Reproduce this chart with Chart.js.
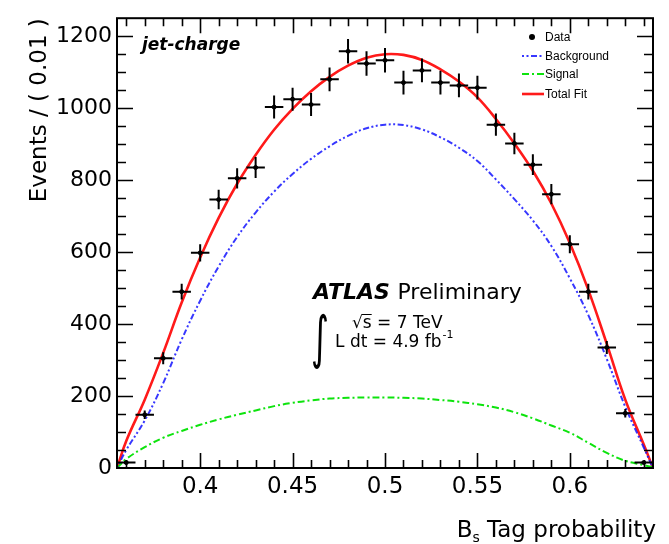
<!DOCTYPE html>
<html>
<head>
<meta charset="utf-8">
<script src="https://cdn.jsdelivr.net/npm/chart.js@4.4.0/dist/chart.umd.min.js"></script>
<style>
  html, body { margin: 0; padding: 0; background: #fff; }
  #tagChart { display: block; }
</style>
</head>
<body>
<canvas id="tagChart" width="669" height="544"></canvas>
<script>
// bin centres (width 0.01) and events per bin
const binCenters = [0.36, 0.37, 0.38, 0.39, 0.40, 0.41, 0.42, 0.43, 0.44, 0.45,
  0.46, 0.47, 0.48, 0.49, 0.50, 0.51, 0.52, 0.53, 0.54, 0.55,
  0.56, 0.57, 0.58, 0.59, 0.60, 0.61, 0.62, 0.63, 0.64];
const dataEvents = [15, 148, 305, 490, 598, 746, 805, 835, 1003, 1025,
  1010, 1080, 1158, 1124, 1133, 1071, 1105, 1071, 1063, 1057,
  954, 902, 843, 761, 622, 490, 335, 152, 15];
const dataErr = [4, 12, 17, 22, 24, 27, 28, 29, 32, 32,
  32, 33, 34, 34, 34, 33, 33, 33, 33, 33,
  31, 30, 29, 28, 25, 22, 18, 12, 4];
const binHalfWidth = 0.005;

// fit curves sampled along the tag probability
const fitX = [0.355, 0.36, 0.37, 0.38, 0.39, 0.40, 0.41, 0.42, 0.43, 0.44,
  0.45, 0.46, 0.47, 0.48, 0.49, 0.50, 0.51, 0.52, 0.53, 0.54,
  0.55, 0.56, 0.57, 0.58, 0.59, 0.60, 0.61, 0.62, 0.63, 0.64, 0.645];
const totalFit = [0, 75, 190, 320, 460, 585, 695, 790, 870, 940,
  998, 1047, 1087, 1118, 1140, 1150, 1148, 1134, 1108, 1074,
  1030, 970, 902, 826, 735, 625, 495, 345, 190, 65, 0];
const background = [0, 50, 132, 236, 357, 465, 560, 642, 710, 768,
  817, 859, 894, 923, 944, 954, 953, 941, 919, 890,
  853, 802, 747, 688, 617, 527, 425, 303, 170, 57, 0];
const signal = [0, 25, 58, 84, 103, 120, 135, 148, 160, 172,
  181, 188, 193, 195, 196, 196, 195, 193, 189, 184,
  177, 168, 155, 138, 118, 98, 70, 42, 20, 8, 2];

const xTickLabels = [0.4, 0.45, 0.5, 0.55, 0.6];
const yTickLabels = [0, 200, 400, 600, 800, 1000, 1200];

const FONT = 'DejaVu Sans';

function pairs(xs, ys) {
  return xs.map((x, i) => ({ x: x, y: ys[i] }));
}

// box, inward ticks on all four sides, error bars
const frameAndBars = {
  id: 'frameAndBars',
  afterDatasetsDraw(chart) {
    const { ctx, chartArea: a, scales: { x, y } } = chart;
    ctx.save();

    // error bars for the data points
    ctx.strokeStyle = '#000';
    ctx.lineWidth = 2;
    ctx.beginPath();
    binCenters.forEach((c, i) => {
      const px = x.getPixelForValue(c);
      const py = y.getPixelForValue(dataEvents[i]);
      ctx.moveTo(x.getPixelForValue(c - binHalfWidth), py);
      ctx.lineTo(x.getPixelForValue(c + binHalfWidth), py);
      ctx.moveTo(px, y.getPixelForValue(Math.max(0, dataEvents[i] - dataErr[i])));
      ctx.lineTo(px, y.getPixelForValue(dataEvents[i] + dataErr[i]));
    });
    ctx.stroke();

    // ticks
    ctx.lineWidth = 1.6;
    ctx.beginPath();
    for (let k = 36; k <= 64; k++) {
      const px = Math.round(x.getPixelForValue(k / 100)) + 0.5;
      const len = k % 5 === 0 ? 15 : 8;
      ctx.moveTo(px, a.bottom); ctx.lineTo(px, a.bottom - len);
      ctx.moveTo(px, a.top); ctx.lineTo(px, a.top + len);
    }
    for (let k = 1; k < 25; k++) {
      const py = Math.round(y.getPixelForValue(k * 50)) + 0.5;
      const len = k % 4 === 0 ? 16 : 9;
      ctx.moveTo(a.left, py); ctx.lineTo(a.left + len, py);
      ctx.moveTo(a.right, py); ctx.lineTo(a.right - len, py);
    }
    ctx.stroke();

    ctx.lineWidth = 2;
    ctx.strokeRect(a.left, a.top, a.right - a.left, a.bottom - a.top);
    ctx.restore();
  }
};

// legend, labels and x-axis title
const annotations = {
  id: 'annotations',
  afterDraw(chart) {
    const { ctx } = chart;
    ctx.save();
    ctx.fillStyle = '#000';
    ctx.textBaseline = 'alphabetic';

    ctx.font = 'italic bold 17px ' + FONT;
    ctx.fillText('jet-charge', 142, 50);

    // legend
    const ds = chart.data.datasets;
    const rows = [37, 56, 74, 94];
    ctx.font = '12px "Liberation Sans"';
    ds.forEach((d, i) => {
      const ry = rows[i];
      if (i === 0) {
        ctx.beginPath();
        ctx.arc(532, ry, 3, 0, Math.PI * 2);
        ctx.fill();
      } else {
        ctx.save();
        ctx.strokeStyle = d.borderColor;
        ctx.lineWidth = d.borderWidth;
        ctx.setLineDash(d.borderDash || []);
        ctx.beginPath();
        ctx.moveTo(522, ry); ctx.lineTo(544, ry);
        ctx.stroke();
        ctx.restore();
      }
      ctx.fillStyle = '#000';
      ctx.fillText(d.label, 545, ry + 4);
    });

    // experiment label
    ctx.font = 'italic bold 22px ' + FONT;
    ctx.fillText('ATLAS', 313, 299);
    const w = ctx.measureText('ATLAS ').width;
    ctx.font = '22px ' + FONT;
    ctx.fillText('Preliminary', 313 + w, 299);

    ctx.font = '17px ' + FONT;
    ctx.fillText('\u221As = 7 TeV', 352, 328);
    const rootW = ctx.measureText('\u221A').width;
    const sW = ctx.measureText('s').width;
    ctx.lineWidth = 1;
    ctx.beginPath();
    ctx.moveTo(352 + rootW - 1, 314.5);
    ctx.lineTo(352 + rootW + sW, 314.5);
    ctx.stroke();

    ctx.fillText('L dt = 4.9 fb', 335, 347);
    const lw = ctx.measureText('L dt = 4.9 fb').width;
    ctx.font = '11px ' + FONT;
    ctx.fillText('-1', 335 + lw + 1, 338);

    // integral sign, stretched tall
    ctx.save();
    ctx.translate(311, 357);
    ctx.scale(1.15, 1.9);
    ctx.font = '30px ' + FONT;
    ctx.fillText('\u222B', 0, 0);
    ctx.restore();

    // x-axis title with subscript
    ctx.font = '23px ' + FONT;
    const rest = ' Tag probability';
    const restW = ctx.measureText(rest).width;
    const bW = ctx.measureText('B').width;
    ctx.font = '14px ' + FONT;
    const subW = ctx.measureText('s').width;
    const tx = 656 - restW - subW - bW;
    ctx.font = '23px ' + FONT;
    ctx.fillText('B', tx, 537);
    ctx.font = '14px ' + FONT;
    ctx.fillText('s', tx + bW, 542);
    ctx.font = '23px ' + FONT;
    ctx.fillText(rest, tx + bW + subW, 537);

    ctx.restore();
  }
};

new Chart(document.getElementById('tagChart'), {
  type: 'scatter',
  data: {
    datasets: [
      {
        label: 'Data',
        data: pairs(binCenters, dataEvents),
        pointRadius: 2,
        pointBackgroundColor: '#000',
        pointBorderColor: '#000',
        showLine: false
      },
      {
        label: 'Background',
        data: pairs(fitX, background),
        showLine: true,
        borderColor: 'rgba(20, 20, 255, 0.85)',
        borderWidth: 2,
        borderDash: [2, 2.5, 2, 2.5, 6, 2.5],
        pointRadius: 0,
        tension: 0.4
      },
      {
        label: 'Signal',
        data: pairs(fitX, signal),
        showLine: true,
        borderColor: 'rgba(0, 225, 0, 0.95)',
        borderWidth: 2,
        borderDash: [7, 3, 2, 3],
        pointRadius: 0,
        tension: 0.4
      },
      {
        label: 'Total Fit',
        data: pairs(fitX, totalFit),
        showLine: true,
        borderColor: '#ff1a1a',
        borderWidth: 2.6,
        pointRadius: 0,
        tension: 0.4
      }
    ]
  },
  options: {
    responsive: false,
    animation: false,
    devicePixelRatio: 1,
    layout: { padding: { top: 12, right: 16, left: 0, bottom: 0 } },
    plugins: {
      legend: { display: false },
      tooltip: { enabled: false }
    },
    scales: {
      x: {
        type: 'linear',
        min: 0.355,
        max: 0.645,
        grid: { display: false, drawTicks: false },
        border: { display: false },
        afterBuildTicks: (axis) => { axis.ticks = xTickLabels.map(v => ({ value: v })); },
        afterFit: (axis) => { axis.height = 76; },
        ticks: {
          color: '#000',
          padding: 5,
          font: { family: FONT, size: 23 },
          callback: (v) => String(v)
        }
      },
      y: {
        min: 0,
        max: 1250,
        grid: { display: false, drawTicks: false },
        border: { display: false },
        afterBuildTicks: (axis) => { axis.ticks = yTickLabels.map(v => ({ value: v })); },
        afterFit: (axis) => { axis.width = 117; },
        ticks: {
          color: '#000',
          padding: 5,
          font: { family: FONT, size: 22 },
          callback: (v) => String(v)
        },
        title: {
          display: true,
          text: 'Events / ( 0.01 )',
          align: 'end',
          color: '#000',
          font: { family: FONT, size: 23 },
          padding: { top: 26, bottom: 0 }
        }
      }
    }
  },
  plugins: [frameAndBars, annotations]
});
</script>
</body>
</html>
